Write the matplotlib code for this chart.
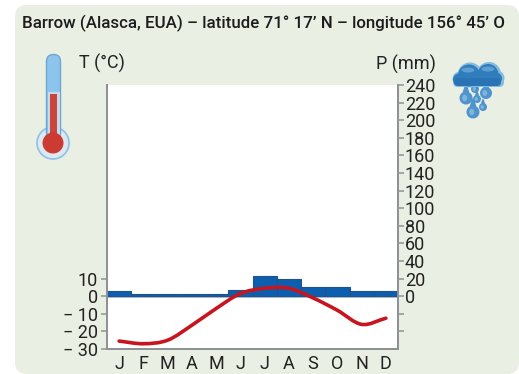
import matplotlib
matplotlib.use('Agg')
import matplotlib.pyplot as plt
from matplotlib.patches import FancyBboxPatch, Circle, Rectangle, PathPatch, Ellipse
from matplotlib.path import Path
import numpy as np

months = ['J', 'F', 'M', 'A', 'M', 'J', 'J', 'A', 'S', 'O', 'N', 'D']
temp = [-25.5, -27, -25, -16.5, -7, 1.5, 4.5, 4.5, -1, -8, -16, -12.5]
prec = [5.5, 3, 3, 3, 3, 7, 23, 20, 11, 11, 6, 6]
t_ticks = [-30, -20, -10, 0, 10]
t_labels = ['\u2212 30', '\u2212 20', '\u2212 10', '0', '10']
p_ticks = [-40, -20, 0, 20, 40, 60, 80, 100, 120, 140, 160, 180, 200, 220, 240]
p_labels = ['', '', '0', '20', '40', '60', '80', '100', '120', '140', '160', '180', '200', '220', '240']
title = 'Barrow (Alasca, EUA) \u2013 latitude 71\u00b0 17\u2019 N \u2013 longitude 156\u00b0 45\u2019 O'

W, H = 519, 374
plt.rcParams['font.family'] = ['Roboto', 'DejaVu Sans']
fig = plt.figure(figsize=(W / 100, H / 100), dpi=100, facecolor='white')

# background panel + icons, in pixel coordinates
bg = fig.add_axes([0, 0, 1, 1])
bg.set_xlim(0, W)
bg.set_ylim(H, 0)
bg.axis('off')
bg.add_patch(FancyBboxPatch((15, 5), 504, 369, boxstyle='round,pad=0,rounding_size=12',
                            fc='#e9efe2', ec='none'))

# thermometer
bg.add_patch(Circle((53, 143), 16, fc='#dbe9f2', ec='#8fc0e6', lw=1.2))
bg.add_patch(FancyBboxPatch((46.5, 54.5), 14, 85, boxstyle='round,pad=0,rounding_size=7',
                            fc='#8cc4ec', ec='#6da6d6', lw=1))
bg.add_patch(Rectangle((47.5, 92), 12, 44, fc='#c4dce8', ec='none'))
bg.add_patch(Rectangle((50, 94), 7, 42, fc='#c9453d', ec='none'))
bg.add_patch(Circle((53, 143), 10.5, fc='#cc3b32', ec='none'))

# rain cloud: drops first, then pale rim and darker body on top
for dx, dy, s in [(475, 89, 0.8), (486, 93, 1.2), (466, 98, 1.3), (477, 99, 0.8), (473, 112, 1.3), (483, 107, 0.8)]:
    drop = Path([(dx, dy - 11 * s), (dx + 5 * s, dy - 2 * s), (dx, dy), (dx - 5 * s, dy - 2 * s), (dx, dy - 11 * s)],
                [Path.MOVETO, Path.CURVE3, Path.CURVE3, Path.CURVE3, Path.CURVE3])
    bg.add_patch(PathPatch(drop, fc='#4f94cc', ec='none'))
    bg.add_patch(Circle((dx, dy), 5 * s, fc='#4f94cc', ec='none'))
    bg.add_patch(Ellipse((dx - 1 * s, dy), 4 * s, 5 * s, fc='#7fb5dc', ec='none'))

rim = '#86bbdf'
body = '#2f7dbd'
lobes = [(470, 75, 12.5), (489, 74, 12), (460, 79, 7.5), (497, 78, 7.5)]
for cx, cy, r in lobes:
    bg.add_patch(Circle((cx, cy), r, fc=rim, ec='none'))
bg.add_patch(FancyBboxPatch((453, 77), 51, 10, boxstyle='round,pad=0,rounding_size=5', fc=rim, ec='none'))
for cx, cy, r in lobes:
    bg.add_patch(Circle((cx - 1, cy + 0.5), r - 1.5, fc=body, ec='none'))
bg.add_patch(FancyBboxPatch((454, 78), 47, 8, boxstyle='round,pad=0,rounding_size=4', fc='#2a74b4', ec='none'))
bg.add_patch(Ellipse((468, 70), 13, 5, fc='#5c9fd0', ec='none'))
bg.add_patch(Ellipse((488, 69), 13, 5, fc='#5c9fd0', ec='none'))

bg.text(22, 23, title, fontsize=12.2, fontweight='medium', color='#1c1c1c', va='center', ha='left')
bg.text(79, 63, 'T (\u00b0C)', fontsize=13, color='#222222', va='center', ha='left')
bg.text(436, 64, 'P (mm)', fontsize=13, color='#222222', va='center', ha='right')

# chart: precipitation axis behind, temperature axis on top
L, R, T, B = 107, 398, 85, 349
rect = [L / W, 1 - B / H, (R - L) / W, (B - T) / H]
ax_p = fig.add_axes(rect, facecolor='white')
ax_t = fig.add_axes(rect, facecolor='none')

x = np.arange(12)
ax_p.axhline(0, color='#a9bfd6', lw=2.2, zorder=1)
ax_p.bar(x, prec, width=1.0, color='#0c5fae', edgecolor='#24508c', linewidth=0.8, zorder=2)
ax_p.set_xlim(-0.5, 11.5)
ax_p.set_ylim(-60, 240)
ax_p.yaxis.tick_right()
ax_p.set_yticks(p_ticks)
ax_p.set_yticklabels(p_labels)
ax_p.set_xticks([])

# smooth curve through the monthly temperatures
slopes = np.gradient(np.array(temp, dtype=float))
verts = [(x[0], temp[0])]
codes = [Path.MOVETO]
for i in range(11):
    verts += [(x[i] + 1 / 3, temp[i] + slopes[i] / 3), (x[i + 1] - 1 / 3, temp[i + 1] - slopes[i + 1] / 3), (x[i + 1], temp[i + 1])]
    codes += [Path.CURVE4] * 3
ax_t.add_patch(PathPatch(Path(verts, codes), fc='none', ec='#c8141e', lw=2.6, capstyle='round'))

ax_t.set_xlim(-0.5, 11.5)
ax_t.set_ylim(-30, 120)
ax_t.set_yticks(t_ticks)
ax_t.set_yticklabels(t_labels)
ax_t.set_xticks(x)
ax_t.set_xticklabels(months)

for ax in (ax_p, ax_t):
    for s in ax.spines.values():
        s.set_color('#8e9296')
        s.set_linewidth(1.4)
    ax.spines['top'].set_visible(False)
ax_t.tick_params(axis='y', length=4.5, width=1.1, color='#8e9296', labelsize=13, labelcolor='#222222', pad=2)
ax_t.tick_params(axis='x', length=0, labelsize=13, labelcolor='#222222', pad=4)
ax_p.tick_params(axis='y', length=4, width=1.1, color='#8e9296', labelsize=13, labelcolor='#222222', pad=1)

fig.savefig('out.png', dpi=100)
